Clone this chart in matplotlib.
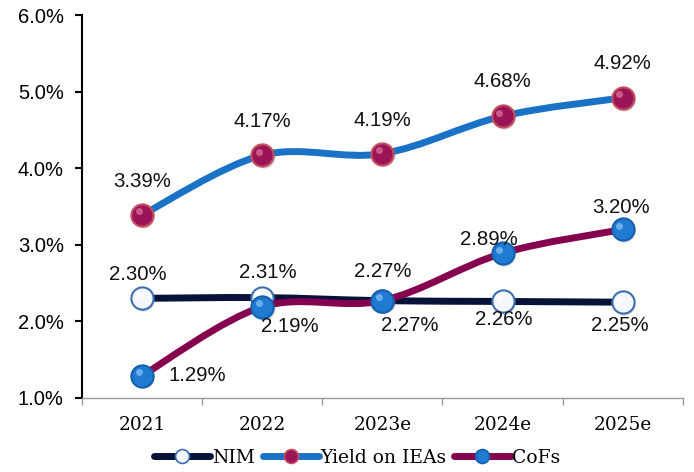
import matplotlib
matplotlib.use("Agg")
import matplotlib.pyplot as plt
from matplotlib.path import Path
from matplotlib.patches import PathPatch
from matplotlib.lines import Line2D
from matplotlib.ticker import FixedLocator, FuncFormatter
import matplotlib.transforms as mtransforms

years = ["2021", "2022", "2023e", "2024e", "2025e"]
nim = [2.30, 2.31, 2.27, 2.26, 2.25]
yield_ieas = [3.39, 4.17, 4.19, 4.68, 4.92]
cofs = [1.29, 2.19, 2.27, 2.89, 3.20]

# label offsets in points (dx, dy)
nim_off = [(-3, 17), (4, 18), (0, 21), (1, -13), (-2, -17)]
yield_off = [(0, 24), (0, 24), (0, 24), (0, 25), (0, 25)]
cofs_off = [(40, 0), (20, -14), (20, -18), (-10, 10), (-1, 16)]


def smooth_path(xs, ys):
    # bezier path through the points, excel-like smoothing
    pts = list(zip(xs, ys))
    verts = [pts[0]]
    codes = [Path.MOVETO]
    n = len(pts)
    for i in range(n - 1):
        p0 = pts[i - 1] if i > 0 else pts[i]
        p1 = pts[i]
        p2 = pts[i + 1]
        p3 = pts[i + 2] if i + 2 < n else pts[i + 1]
        c1 = (p1[0] + (p2[0] - p0[0]) / 6, p1[1] + (p2[1] - p0[1]) / 6)
        c2 = (p2[0] - (p3[0] - p1[0]) / 6, p2[1] - (p3[1] - p1[1]) / 6)
        verts += [c1, c2, p2]
        codes += [Path.CURVE4] * 3
    return Path(verts, codes)


fig = plt.figure(figsize=(6.94, 4.72), dpi=100)
ax = fig.add_axes([0.118, 0.157, 0.866, 0.811])

x = list(range(len(years)))

series = [
    (nim, "#06123a", "#f4f7fc", "#3d6fae", "white", nim_off, "NIM"),
    (yield_ieas, "#1a72c6", "#9c1458", "#c44f5e", "#e07a9a", yield_off, "Yield on IEAs"),
    (cofs, "#85024f", "#1f7ad2", "#1560b0", "#8cc4f4", cofs_off, "CoFs"),
]

handles = []
for k, (vals, lc, mfc, mec, hl, offs, name) in enumerate(series):
    z = 2 + k * 2
    ax.add_patch(PathPatch(smooth_path(x, vals), facecolor="none", edgecolor=lc,
                           lw=5, capstyle="round", zorder=z))
    shadow = mtransforms.offset_copy(ax.transData, fig=fig, x=1.0, y=-1.3, units="points")
    ax.plot(x, vals, ls="none", marker="o", ms=16, mfc="#666666", mec="none", alpha=0.25,
            transform=shadow, zorder=z + 1)
    ax.plot(x, vals, ls="none", marker="o", ms=16, mfc=mfc, mec=mec, mew=1.5, zorder=z + 1)
    shift = mtransforms.offset_copy(ax.transData, fig=fig, x=-2.5, y=2.5, units="points")
    ax.plot(x, vals, ls="none", marker="o", ms=5, mfc=hl, mec="none", alpha=0.7,
            transform=shift, zorder=z + 1)
    for xi, v, (dx, dy) in zip(x, vals, offs):
        ax.annotate(f"{v:.2f}%", (xi, v), xytext=(dx, dy), textcoords="offset points",
                    ha="center", va="center", fontsize=14.7, family="Liberation Sans",
                    color="#111111", zorder=10)
    handles.append(Line2D([], [], color=lc, lw=5, marker="o", ms=10, mfc=mfc, mec=mec,
                          mew=1.2, solid_capstyle="round"))

ax.set_xlim(-0.5, len(years) - 0.5)
ax.set_ylim(1.0, 6.0)
ax.set_xticks(x)
ax.set_xticklabels(years, family="DejaVu Serif", fontsize=13.3)
ax.xaxis.set_minor_locator(FixedLocator([i - 0.5 for i in range(len(years) + 1)]))
ax.tick_params(axis="x", which="major", length=0, pad=13)
ax.tick_params(axis="x", which="minor", length=5, color="#999999", width=1)
ax.set_yticks([1, 2, 3, 4, 5, 6])
ax.yaxis.set_major_formatter(FuncFormatter(lambda v, p: f"{v:.1f}%"))
ax.tick_params(axis="y", length=5, width=1.5, color="black", labelsize=14.5, pad=8)
for lab in ax.get_yticklabels():
    lab.set_family("Liberation Sans")

for s in ["top", "right"]:
    ax.spines[s].set_visible(False)
ax.spines["left"].set_linewidth(1.5)
ax.spines["bottom"].set_color("#999999")
ax.spines["bottom"].set_linewidth(1)

fig.legend(handles, ["NIM", "Yield on IEAs", "CoFs"], loc="center",
           bbox_to_anchor=(0.515, 0.03), ncol=3, frameon=False, handlelength=3.0,
           handletextpad=0.1, columnspacing=0.4,
           prop={"family": "DejaVu Serif", "size": 13.5})

fig.savefig("out.png", dpi=100)
